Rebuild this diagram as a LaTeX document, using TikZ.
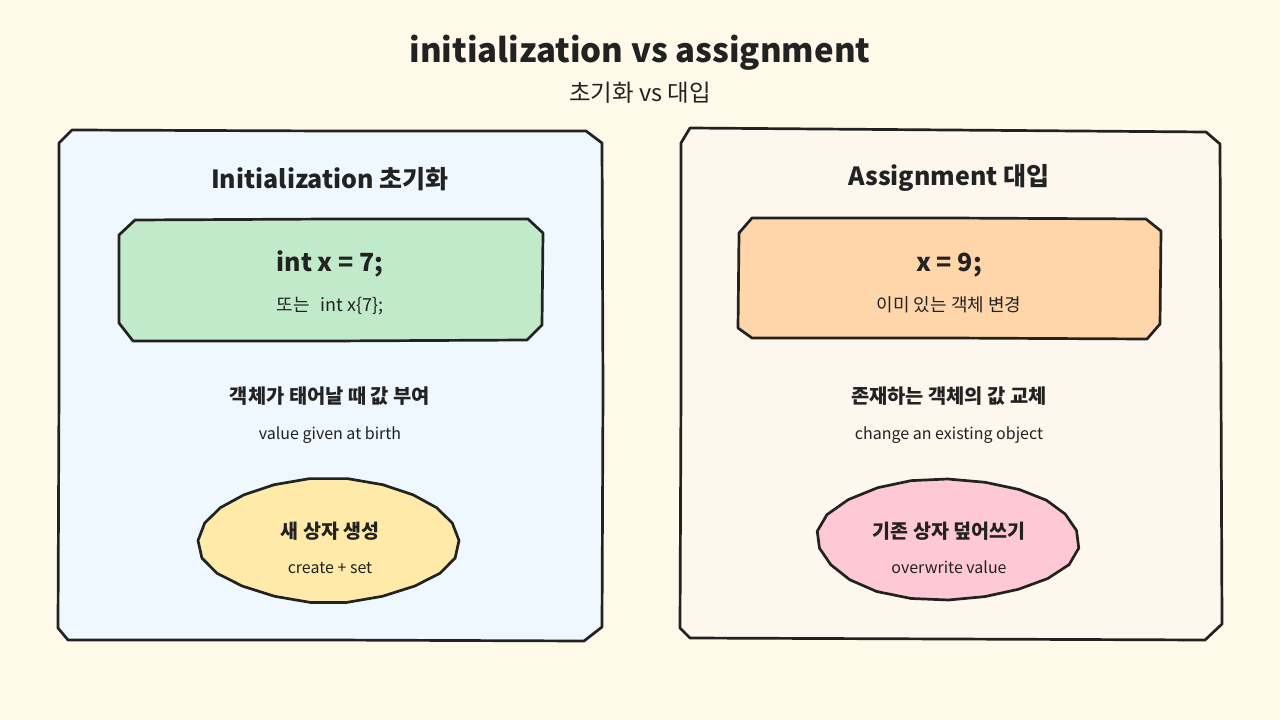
\documentclass[tikz,border=0pt]{standalone}
\usepackage{fontspec}
\setmainfont{Noto Sans CJK KR}
\definecolor{bg}{HTML}{FEF9E9}
\definecolor{ink}{HTML}{222222}
\definecolor{panelL}{HTML}{EEF8FE}
\definecolor{panelR}{HTML}{FEF7EE}
\definecolor{greenbox}{HTML}{C0EACA}
\definecolor{orangebox}{HTML}{FFD6AA}
\definecolor{yellowov}{HTML}{FFEAAA}
\definecolor{pinkov}{HTML}{FFC8D5}
\begin{document}
\begin{tikzpicture}[x=1pt,y=-1pt,
  sketch/.style={draw=ink,line width=2.7pt,line join=round,line cap=round},
  txt/.style={text=ink,inner sep=0pt,anchor=center},
  ttl/.style={txt,font=\bfseries\fontsize{33}{36}\selectfont},
  subttl/.style={txt,font=\fontsize{23.5}{26}\selectfont},
  ptitle/.style={txt,font=\bfseries\fontsize{25}{28}\selectfont},
  code/.style={txt,font=\bfseries\fontsize{25}{28}\selectfont},
  codenote/.style={txt,font=\fontsize{18}{21}\selectfont},
  lead/.style={txt,font=\bfseries\fontsize{19.8}{22}\selectfont},
  note/.style={txt,font=\fontsize{16}{19}\selectfont},
  ovhead/.style={txt,font=\bfseries\fontsize{19.5}{22}\selectfont},
  ovnote/.style={txt,font=\fontsize{16}{19}\selectfont}]
\useasboundingbox (0,0) rectangle (1280,720);
\fill[bg] (0,0) rectangle (1280,720);

% title
\node[ttl] (title) at (640,53) {initialization vs assignment};
\node[subttl] (subtitle) at (640,93) {초기화 vs 대입};

% left panel
\path[sketch,fill=panelL] (72,130) -- (330,131) -- (586,131) -- (602,143)
  -- (603,390) -- (602,627) -- (584,641) -- (330,640) -- (68,640) -- (58,628)
  -- (59,390) -- (59,143) -- cycle;
% right panel
\path[sketch,fill=panelR] (690,128) -- (950,130) -- (1206,132) -- (1220,144)
  -- (1221,390) -- (1222,624) -- (1205,640) -- (950,639) -- (690,638) -- (680,628)
  -- (681,390) -- (681,143) -- cycle;

% left code box
\path[sketch,fill=greenbox] (135,220) -- (330,219) -- (528,219) -- (543,233)
  -- (542,325) -- (527,340) -- (330,341) -- (133,341) -- (119,323) -- (119,235) -- cycle;
% right code box
\path[sketch,fill=orangebox] (752,218) -- (950,218) -- (1146,219) -- (1161,231)
  -- (1160,324) -- (1147,339) -- (950,338) -- (752,338) -- (738,328) -- (739,233) -- cycle;

% ovals
\path[sketch,fill=yellowov] plot[samples=22,domain=0:360*21/22]
  ({328.5+130.5*cos(\x)*(1+0.015*sin(3*\x))},{540.5+61.5*sin(\x)*(1+0.02*cos(4*\x))}) -- cycle;
\path[sketch,fill=pinkov] plot[samples=22,domain=8:360*21/22+8]
  ({948+131*cos(\x)*(1+0.015*sin(4*\x))},{539.5+60.5*sin(\x)*(1+0.02*cos(3*\x))}) -- cycle;

% left texts
\node[ptitle] (ltitle) at (330,179) {Initialization 초기화};
\node[code] (lcode) at (330,264) {int x = 7;};
\node[codenote] (lcodenote) at (330,306) {또는\hspace{0.6em}int x\{7\};};
\node[lead] (llead) at (330,396) {객체가 태어날 때 값 부여};
\node[note] (lnote) at (330,435) {value given at birth};
\node[ovhead] (lovhead) at (330,531) {새 상자 생성};
\node[ovnote] (lovnote) at (330,568) {create + set};

% right texts
\node[ptitle] (rtitle) at (949,178) {Assignment 대입};
\node[code] (rcode) at (949,265) {x = 9;};
\node[codenote] (rcodenote) at (949,305) {이미 있는 객체 변경};
\node[lead] (rlead) at (949,396) {존재하는 객체의 값 교체};
\node[note] (rnote) at (949,435) {change an existing object};
\node[ovhead] (rovhead) at (949,531) {기존 상자 덮어쓰기};
\node[ovnote] (rovnote) at (949,567) {overwrite value};
\end{tikzpicture}
\end{document}
